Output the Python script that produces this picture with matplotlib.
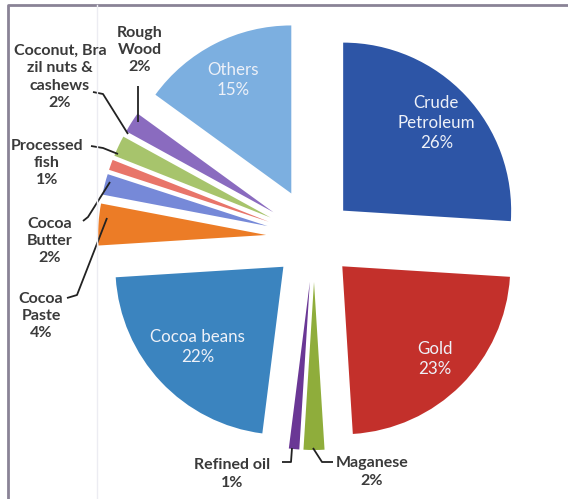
import numpy as np
import matplotlib
matplotlib.use("Agg")
import matplotlib.pyplot as plt

# export shares, clockwise from 12 o'clock
names = ["Crude Petroleum", "Gold", "Maganese", "Refined oil", "Cocoa beans",
         "Cocoa Paste", "Cocoa Butter", "Processed fish",
         "Coconut, Brazil nuts & cashews", "Rough Wood", "Others"]
shares = [26, 23, 2, 1, 22, 4, 2, 1, 2, 2, 15]
colors = ["#2d55a6", "#c3302b", "#8fad3b", "#6a3795", "#3b84bf",
          "#ec7c26", "#7689d8", "#e8756a", "#a7c46c", "#8a6bbf", "#7cafe0"]
explode = [40, 40, 44, 44, 42, 48, 48, 48, 48, 48, 50]

W, H = 568, 499
plt.rcParams['font.family'] = ['Lato', 'DejaVu Sans']

fig = plt.figure(figsize=(W / 100, H / 100), dpi=100)
ax = fig.add_axes([0, 0, 1, 1])


def Y(y):
    # work in top-down pixel rows
    return H - y


cx, cy, R = 314, Y(238), 168
wedges, _ = ax.pie(shares, colors=colors, explode=explode, startangle=90,
                   counterclock=False, radius=R, center=(cx, cy),
                   wedgeprops=dict(linewidth=0), frame=True)
ax.set_xlim(0, W)
ax.set_ylim(0, H)
ax.set_aspect('auto')
ax.axis('off')

# labels inside the big slices
inner = {0: ("Crude\nPetroleum", 0.76), 1: ("Gold", 0.78),
         4: ("Cocoa beans", 0.70), 10: ("Others", 0.76)}
for i, (txt, dist) in inner.items():
    w = wedges[i]
    th = np.deg2rad((w.theta1 + w.theta2) / 2)
    x = w.center[0] + dist * R * np.cos(th)
    y = w.center[1] + dist * R * np.sin(th)
    ax.text(x, y, f"{txt}\n{shares[i]}%", ha='center', va='center',
            color='#eef1f8', fontsize=12.2, linespacing=1.3)

# outside labels with leader lines
outer = [
    ("Rough\nWood\n2%", 140, 50, [(138, 86), (138, 122)]),
    ("Coconut, Bra\nzil nuts &\ncashews\n2%", 60, 77,
     [(93, 92), (103, 94), (128, 134)]),
    ("Processed\nfish\n1%", 47, 163, [(91, 146), (103, 148), (118, 154)]),
    ("Cocoa\nButter\n2%", 50, 241, [(83, 221), (88, 217), (110, 182)]),
    ("Cocoa\nPaste\n4%", 41, 316, [(67, 298), (77, 295), (107, 218)]),
    ("Refined oil\n1%", 232, 474, [(282, 462), (291, 462), (292, 448)]),
    ("Maganese\n2%", 372, 472, [(313, 448), (322, 462), (333, 462)]),
]
for txt, x, y, pts in outer:
    ax.text(x, Y(y), txt, ha='center', va='center', color='#3a3a3a',
            fontsize=11.5, fontweight='bold', linespacing=1.3)
    px = [p[0] for p in pts]
    py = [Y(p[1]) for p in pts]
    ax.plot(px, py, color='#222222', lw=1.3, solid_capstyle='butt')

# chart border
ax.plot([8, 8, W], [0, Y(5), Y(5)], color='#8a8396', lw=2, clip_on=False)
ax.plot([97, 97], [0, Y(5)], color='#ececf2', lw=1)

fig.savefig("out.png", dpi=100, facecolor='white')
